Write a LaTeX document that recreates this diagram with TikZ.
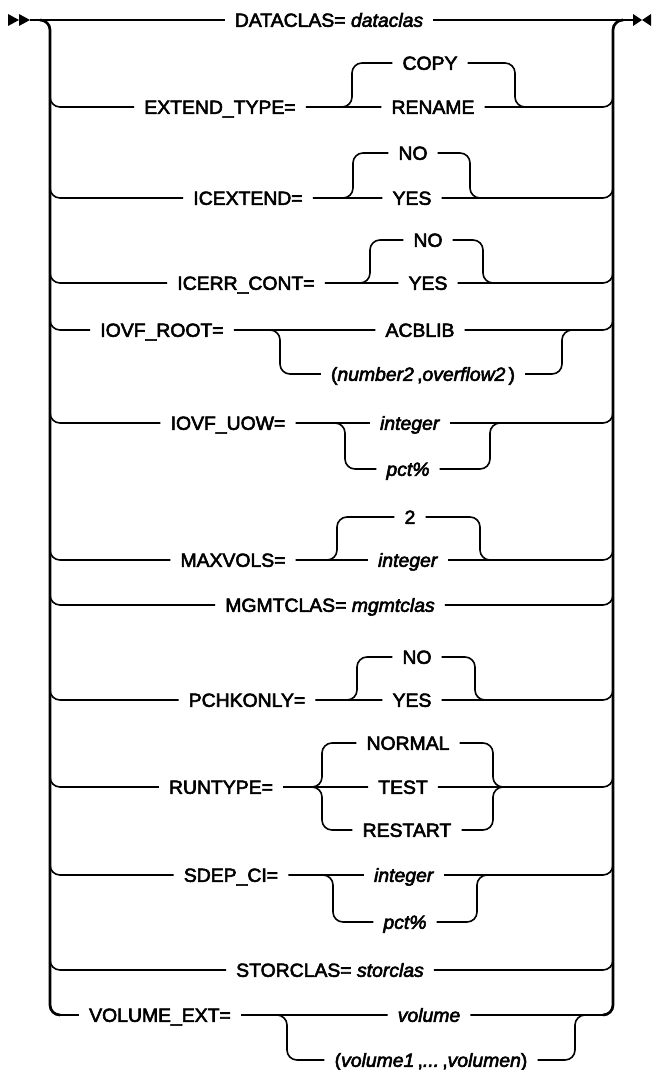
\documentclass[tikz,border=0pt]{standalone}
\usepackage{fontspec}
\setmainfont{Liberation Sans}[FakeStretch=1.02,FakeBold=3]
\begin{document}
\begin{tikzpicture}[x=1pt,y=-1pt,
  line/.style={line width=1.6pt, rounded corners=10pt},
  rail/.style={line width=2.7pt, rounded corners=10pt},
  lbl/.style={inner xsep=10pt, inner ysep=0pt, text height=13.6pt, text depth=0pt, font=\fontsize{19}{21}\selectfont}]
\useasboundingbox (0,0) rectangle (652,1070);
% start / end markers
\fill (8,14) -- (19,20) -- (8,26) -- cycle;
\fill (19,14) -- (30,20) -- (19,26) -- cycle;
\fill (633,14) -- (642,20) -- (633,26) -- cycle;
\fill (651,14) -- (642,20) -- (651,26) -- cycle;
\coordinate (start) at (30,20);
\coordinate (end) at (633,20);
\foreach \k/\y in {1/20,2/107,3/198,4/283,5/330,6/423,7/560,8/605,9/700,10/787,11/875,12/970,13/1015}{
  \coordinate (L\k) at (50,\y);
  \coordinate (R\k) at (613,\y);
}
% rails
\draw[rail] (40,20) -| (L13) -- ++(10pt,0);
\draw[rail] ([xshift=-10pt]R13) -| (R1) -- ++(10pt,0);

% row 1
\node[lbl] (n1) at (329,20) {DATACLAS= \textit{dataclas}};
\draw[line] (start) -- (n1.west) (n1.east) -- (end);

% row 2
\node[lbl] (l2) at (220,107) {EXTEND\_TYPE=};
\node[lbl] (a2) at (430,63) {COPY};
\node[lbl] (b2) at (433,107) {RENAME};
\coordinate (A2) at (352,107); \coordinate (B2) at (515,107);
\draw[line] ([yshift=20pt]L2) |- (l2.west) (l2.east) -- (b2.west) (b2.east) -| ([yshift=20pt]R2);
\draw[line] ([xshift=-10pt]A2) -| (a2.west -| A2) -- (a2.west) (a2.east) -| (B2) -- ++(10pt,0);

% row 3
\node[lbl] (l3) at (248,198) {ICEXTEND=};
\node[lbl] (a3) at (413,153) {NO};
\node[lbl] (b3) at (412,198) {YES};
\coordinate (A3) at (353,198); \coordinate (B3) at (470,198);
\draw[line] ([yshift=20pt]L3) |- (l3.west) (l3.east) -- (b3.west) (b3.east) -| ([yshift=20pt]R3);
\draw[line] ([xshift=-10pt]A3) -| (a3.west -| A3) -- (a3.west) (a3.east) -| (B3) -- ++(10pt,0);

% row 4
\node[lbl] (l4) at (246,283) {ICERR\_CONT=};
\node[lbl] (a4) at (428,240) {NO};
\node[lbl] (b4) at (428,283) {YES};
\coordinate (A4) at (370,283); \coordinate (B4) at (483,283);
\draw[line] ([yshift=20pt]L4) |- (l4.west) (l4.east) -- (b4.west) (b4.east) -| ([yshift=20pt]R4);
\draw[line] ([xshift=-10pt]A4) -| (a4.west -| A4) -- (a4.west) (a4.east) -| (B4) -- ++(10pt,0);

% row 5
\node[lbl] (l5) at (162,330) {IOVF\_ROOT=};
\node[lbl] (a5) at (420,330) {ACBLIB};
\node[lbl] (b5) at (423,374) {(\textit{number2}\,,\textit{overflow2}\,)};
\coordinate (A5) at (280,330); \coordinate (B5) at (562,330);
\draw[line] ([yshift=20pt]L5) |- (l5.west) (l5.east) -- (a5.west) (a5.east) -| ([yshift=20pt]R5);
\draw[line] ([xshift=-10pt]A5) -| (b5.west -| A5) -- (b5.west) (b5.east) -| (B5) -- ++(10pt,0);

% row 6
\node[lbl] (l6) at (228,423) {IOVF\_UOW=};
\node[lbl] (a6) at (410,423) {\textit{integer}};
\node[lbl] (b6) at (408,469) {\textit{pct\%}};
\coordinate (A6) at (345,423); \coordinate (B6) at (490,423);
\draw[line] ([yshift=20pt]L6) |- (l6.west) (l6.east) -- (a6.west) (a6.east) -| ([yshift=20pt]R6);
\draw[line] ([xshift=-10pt]A6) -| (b6.west -| A6) -- (b6.west) (b6.east) -| (B6) -- ++(10pt,0);

% row 7
\node[lbl] (l7) at (233,560) {MAXVOLS=};
\node[lbl] (a7) at (410,517) {2};
\node[lbl] (b7) at (408,560) {\textit{integer}};
\coordinate (A7) at (337,560); \coordinate (B7) at (480,560);
\draw[line] ([yshift=20pt]L7) |- (l7.west) (l7.east) -- (b7.west) (b7.east) -| ([yshift=20pt]R7);
\draw[line] ([xshift=-10pt]A7) -| (a7.west -| A7) -- (a7.west) (a7.east) -| (B7) -- ++(10pt,0);

% row 8
\node[lbl] (n8) at (330,605) {MGMTCLAS= \textit{mgmtclas}};
\draw[line] ([yshift=20pt]L8) |- (n8.west) (n8.east) -| ([yshift=20pt]R8);

% row 9
\node[lbl] (l9) at (247,700) {PCHKONLY=};
\node[lbl] (a9) at (417,657) {NO};
\node[lbl] (b9) at (412,700) {YES};
\coordinate (A9) at (357,700); \coordinate (B9) at (475,700);
\draw[line] ([yshift=20pt]L9) |- (l9.west) (l9.east) -- (b9.west) (b9.east) -| ([yshift=20pt]R9);
\draw[line] ([xshift=-10pt]A9) -| (a9.west -| A9) -- (a9.west) (a9.east) -| (B9) -- ++(10pt,0);

% row 10
\node[lbl] (l10) at (221,787) {RUNTYPE=};
\node[lbl] (a10) at (408,743) {NORMAL};
\node[lbl] (b10) at (403,787) {TEST};
\node[lbl] (c10) at (407,830) {RESTART};
\coordinate (A10) at (322,787); \coordinate (B10) at (493,787);
\draw[line] ([yshift=20pt]L10) |- (l10.west) (l10.east) -- (b10.west) (b10.east) -| ([yshift=20pt]R10);
\draw[line] ([xshift=-10pt]A10) -| (a10.west -| A10) -- (a10.west) (a10.east) -| (B10) -- ++(10pt,0);
\draw[line] ([xshift=-10pt]A10) -| (c10.west -| A10) -- (c10.west) (c10.east) -| (B10) -- ++(10pt,0);

% row 11
\node[lbl] (l11) at (231,875) {SDEP\_CI=};
\node[lbl] (a11) at (404,875) {\textit{integer}};
\node[lbl] (b11) at (405,922) {\textit{pct\%}};
\coordinate (A11) at (333,875); \coordinate (B11) at (477,875);
\draw[line] ([yshift=20pt]L11) |- (l11.west) (l11.east) -- (a11.west) (a11.east) -| ([yshift=20pt]R11);
\draw[line] ([xshift=-10pt]A11) -| (b11.west -| A11) -- (b11.west) (b11.east) -| (B11) -- ++(10pt,0);

% row 12
\node[lbl] (n12) at (330,970) {STORCLAS= \textit{storclas}};
\draw[line] ([yshift=20pt]L12) |- (n12.west) (n12.east) -| ([yshift=20pt]R12);

% row 13
\node[lbl] (l13) at (160,1015) {VOLUME\_EXT=};
\node[lbl] (a13) at (429,1015) {\textit{volume}};
\node[lbl] (b13) at (431,1060) {(\textit{volume1}\,,\textit{...}\,,\textit{volumen})};
\coordinate (A13) at (287,1015); \coordinate (B13) at (575,1015);
\draw[line] ([yshift=20pt]L13) |- (l13.west) (l13.east) -- (a13.west) (a13.east) -| ([yshift=20pt]R13);
\draw[line] ([xshift=-10pt]A13) -| (b13.west -| A13) -- (b13.west) (b13.east) -| (B13) -- ++(10pt,0);
\end{tikzpicture}
\end{document}
